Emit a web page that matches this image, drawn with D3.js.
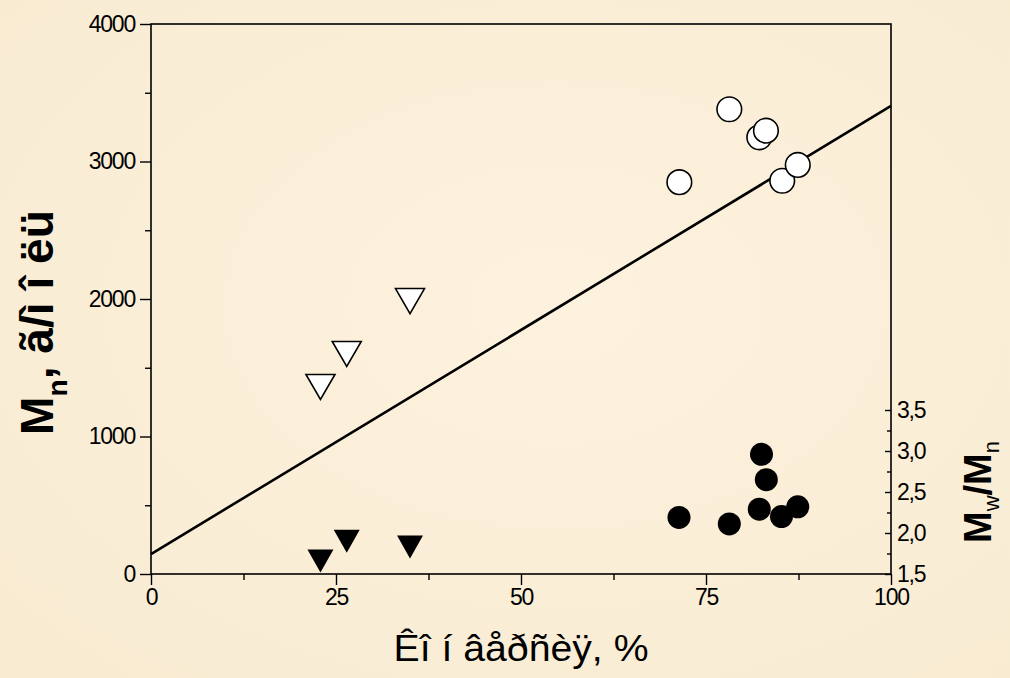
<!DOCTYPE html>
<html>
<head>
<meta charset="utf-8">
<script src="https://cdn.jsdelivr.net/npm/d3@7"></script>
<style>
  html, body { margin: 0; padding: 0; background: #fbefd9; }
  svg { display: block; }
  text { font-family: "Liberation Sans", Arial, sans-serif; fill: #000; }
</style>
</head>
<body>
<svg id="chart" width="1010" height="678"></svg>
<script>
// ---- data ----
const xTicks = [0, 25, 50, 75, 100];
const yTicks = [0, 1000, 2000, 3000, 4000];
const y2Ticks = [1.5, 2.0, 2.5, 3.0, 3.5];
const y2TickLabels = ["1,5", "2,0", "2,5", "3,0", "3,5"];

// Mn, open triangles
const triConv = [22.9, 26.45, 35.0];
const triMn = [1360, 1600, 1985];
// Mw/Mn, filled triangles
const triPdi = [1.66, 1.90, 1.83];

// Mn, open circles
const circConv = [71.4, 78.15, 82.2, 83.1, 85.3, 87.4];
const circMn = [2850, 3380, 3176, 3224, 2860, 2975];
// Mw/Mn, filled circles
const dotConv = [71.35, 78.15, 82.5, 83.15, 82.2, 85.2, 87.4];
const dotPdi = [2.19, 2.11, 2.96, 2.65, 2.29, 2.20, 2.32];

// linear fit of Mn
const fitConv = [0, 100];
const fitMn = [145, 3404];

// ---- layout ----
const svg = d3.select("#chart");
const L = 151, T = 24, W = 740, H = 550;

// background
const defs = svg.append("defs");
const grad = defs.append("radialGradient").attr("id", "bg").attr("cx", "55%").attr("cy", "45%").attr("r", "75%");
grad.append("stop").attr("offset", "0%").attr("stop-color", "#fdf2de");
grad.append("stop").attr("offset", "100%").attr("stop-color", "#f8ebd2");
svg.append("rect").attr("width", 1010).attr("height", 678).attr("fill", "url(#bg)");

const x = d3.scaleLinear().domain([0, 100]).range([L, L + W]);
const y = d3.scaleLinear().domain([0, 4000]).range([T + H, T]);
const y2 = d3.scaleLinear().domain([1.5, 1.5 + H / 82]).range([T + H, T]);

const g = svg.append("g");

// frame
g.append("rect").attr("x", L).attr("y", T).attr("width", W).attr("height", H)
  .attr("fill", "none").attr("stroke", "#000").attr("stroke-width", 1.6);

// bottom axis
const xAxis = d3.axisBottom(x).tickValues(xTicks).tickSize(11).tickPadding(4).tickFormat(d3.format("d"));
const gx = g.append("g").attr("transform", `translate(0,${T + H})`).call(xAxis);
gx.select(".domain").remove();
gx.append("g").call(d3.axisBottom(x).tickValues([12.5, 37.5, 62.5, 87.5]).tickSize(6).tickFormat(""))
  .select(".domain").remove();

// left axis
const yAxis = d3.axisLeft(y).tickValues(yTicks).tickSize(11).tickPadding(5).tickFormat(d3.format("d"));
const gy = g.append("g").attr("transform", `translate(${L},0)`).call(yAxis);
gy.select(".domain").remove();
gy.append("g").call(d3.axisLeft(y).tickValues([500, 1500, 2500, 3500]).tickSize(6).tickFormat(""))
  .select(".domain").remove();

// right axis (ticks pointing inward)
const y2Axis = d3.axisRight(y2).tickValues(y2Ticks).tickSize(0).tickPadding(6)
  .tickFormat((d, i) => y2TickLabels[i]);
const gy2 = g.append("g").attr("transform", `translate(${L + W},0)`).call(y2Axis);
gy2.select(".domain").remove();
gy2.selectAll(".tick").append("line").attr("x1", -6).attr("x2", 0).attr("stroke", "#000");
gy2.append("g").call(d3.axisLeft(y2).tickValues([1.75, 2.25, 2.75, 3.25]).tickSize(4).tickFormat(""))
  .select(".domain").remove();

g.selectAll(".tick line").attr("stroke", "#000").attr("stroke-width", 1.4);
g.selectAll(".tick text").attr("font-size", 23).attr("letter-spacing", -1.2).attr("fill", "#000")
  .attr("font-family", "'Liberation Sans', Arial, sans-serif");

// fit line
g.append("path")
  .datum(fitConv.map((c, i) => [c, fitMn[i]]))
  .attr("d", d3.line().x(d => x(d[0])).y(d => y(d[1])))
  .attr("fill", "none").attr("stroke", "#000").attr("stroke-width", 2.6);

// triangle path helper (down-pointing)
function tri(cx, cy, w, h) {
  return `M${cx - w / 2},${cy - h / 2}L${cx + w / 2},${cy - h / 2}L${cx},${cy + h / 2}Z`;
}

// open triangles (Mn)
g.selectAll(".otri").data(triConv.map((c, i) => [c, triMn[i]])).join("path")
  .attr("d", d => tri(x(d[0]), y(d[1]), 29, 25))
  .attr("fill", "#fff").attr("stroke", "#000").attr("stroke-width", 1.6).attr("stroke-linejoin", "miter");

// filled triangles (Mw/Mn)
g.selectAll(".ftri").data(triConv.map((c, i) => [c, triPdi[i]])).join("path")
  .attr("d", d => tri(x(d[0]), y2(d[1]), 26, 23))
  .attr("fill", "#000");

// open circles (Mn)
g.selectAll(".ocirc").data(circConv.map((c, i) => [c, circMn[i]])).join("circle")
  .attr("cx", d => x(d[0])).attr("cy", d => y(d[1])).attr("r", 12.3)
  .attr("fill", "#fff").attr("stroke", "#000").attr("stroke-width", 1.6);

// filled circles (Mw/Mn)
g.selectAll(".fcirc").data(dotConv.map((c, i) => [c, dotPdi[i]])).join("circle")
  .attr("cx", d => x(d[0])).attr("cy", d => y2(d[1])).attr("r", 11.5)
  .attr("fill", "#000");

// x axis title
svg.append("text").attr("x", 521).attr("y", 661).attr("text-anchor", "middle")
  .attr("font-size", 37).attr("textLength", 255).attr("lengthAdjust", "spacingAndGlyphs")
  .text("Êî í âåðñèÿ, %");

// left y title
const yt = svg.append("text").attr("transform", "translate(53,435) rotate(-90)")
  .attr("font-size", 46).attr("font-weight", "bold")
  .attr("textLength", 225).attr("lengthAdjust", "spacingAndGlyphs");
yt.append("tspan").text("M");
yt.append("tspan").attr("font-size", 28).attr("dy", 14).text("n");
yt.append("tspan").attr("dy", -14).text(", ã/ì î ëü");

// right y title
const rt = svg.append("text").attr("transform", "translate(991,543) rotate(-90)")
  .attr("font-size", 38).attr("font-weight", "bold");
rt.append("tspan").text("M");
rt.append("tspan").attr("font-size", 22).attr("dy", 8).attr("font-weight", "normal").text("w");
rt.append("tspan").attr("dy", -8).text("/M");
rt.append("tspan").attr("font-size", 22).attr("dy", 8).attr("font-weight", "normal").text("n");
</script>
</body>
</html>
